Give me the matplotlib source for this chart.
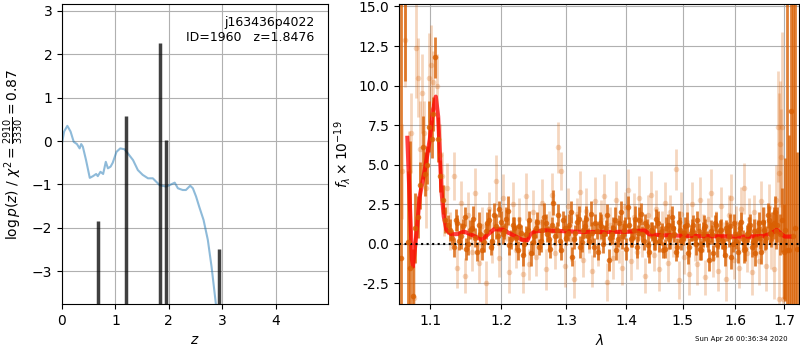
import numpy as np
import matplotlib
matplotlib.use("Agg")
import matplotlib.pyplot as plt
from matplotlib.ticker import FixedLocator, NullLocator, FormatStrFormatter

# --- left panel: p(z) ---
pz_z = [0.00, 0.04, 0.10, 0.16, 0.22, 0.28, 0.33, 0.36, 0.39, 0.45,
        0.52, 0.58, 0.64, 0.67, 0.72, 0.77, 0.82, 0.86, 0.91, 0.95,
        1.02, 1.09, 1.17, 1.23, 1.33, 1.42, 1.51, 1.61, 1.70, 1.83,
        1.95, 2.01, 2.11, 2.17, 2.26, 2.32, 2.40, 2.45, 2.51, 2.57,
        2.65, 2.73, 2.80, 2.88, 2.95]
pz_chi2 = [-0.05, 0.22, 0.35, 0.22, -0.02, -0.07, -0.17, -0.07, -0.13, -0.44,
           -0.85, -0.81, -0.76, -0.81, -0.71, -0.76, -0.48, -0.63, -0.59, -0.50,
           -0.25, -0.17, -0.19, -0.28, -0.44, -0.67, -0.78, -0.86, -0.86, -1.02,
           -1.05, -1.02, -0.96, -1.09, -1.13, -1.13, -1.03, -1.09, -1.28, -1.52,
           -1.82, -2.28, -2.90, -3.75, -4.44]
peak_z = [0.67, 1.19, 1.84, 1.95, 2.93]
peak_logp = [-1.85, 0.57, 2.27, 0.03, -2.5]

# --- right panel: spectrum ---
wave_dark = [1.061, 1.066, 1.0705, 1.0735, 1.077, 1.080, 1.0835, 1.087, 1.090, 1.093,
             1.096, 1.099, 1.102, 1.1045, 1.1068, 1.1113, 1.114, 1.117, 1.120,
             1.125, 1.130, 1.135, 1.140, 1.145, 1.150, 1.155, 1.160, 1.165, 1.170,
             1.175, 1.180, 1.185, 1.190, 1.195, 1.200, 1.205, 1.210, 1.215, 1.220,
             1.225, 1.230, 1.235, 1.240, 1.245, 1.250, 1.255, 1.260, 1.265, 1.270,
             1.275, 1.280, 1.285, 1.290, 1.295, 1.300, 1.305, 1.310, 1.315, 1.320,
             1.325, 1.330, 1.335, 1.340, 1.345, 1.350, 1.355, 1.360, 1.365, 1.370,
             1.375, 1.380, 1.385, 1.390, 1.395, 1.400, 1.405, 1.410, 1.415, 1.420,
             1.425, 1.430, 1.435, 1.440, 1.445, 1.450, 1.455, 1.460, 1.465, 1.470,
             1.475, 1.480, 1.485, 1.490, 1.495, 1.500, 1.505, 1.510, 1.515, 1.520,
             1.525, 1.530, 1.535, 1.540, 1.545, 1.550, 1.555, 1.560, 1.565, 1.570,
             1.575, 1.580, 1.585, 1.590, 1.595, 1.600, 1.605, 1.610, 1.615, 1.620,
             1.625, 1.630, 1.635, 1.640, 1.645, 1.650, 1.655, 1.660, 1.665, 1.670,
             1.675, 1.680, 1.685,
             1.690, 1.694, 1.698, 1.702, 1.706, 1.709, 1.713, 1.717, 1.722, 1.727]
flux_dark = [-0.9, 16.0, 0.1, -1.5, -3.3, 1.0, 1.7, 3.7, 6.1, 4.4,
             5.0, 7.4, 6.6, 8.2, 11.8, 6.6, 4.3, 2.8, 1.5,
             1.2, 0.4, 1.5, 0.2, 1.1, -0.3, 0.9, 1.6, -0.5, 0.6,
             0.1, 1.3, -0.2, 1.8, 0.5, 1.4, 0.8, 2.1, 0.3, 1.0,
             -0.4, 0.7, 0.0, 0.9, -0.6, 0.5, 1.4, 0.2, 1.7, 0.6,
             -0.3, 2.6, 0.9, 0.2, 1.5, 0.4, 1.2, -0.8, 0.7, 1.6,
             0.1, 1.1, 0.5, 1.9, -0.2, 0.8, 1.3, 0.0, 1.0, -1.0,
             0.6, 1.5, 0.3, 2.0, 0.9, -0.3, 1.2, 0.4, 1.6, 0.7,
             1.9, 0.2, 1.1, -0.5, 0.8, 0.1, 1.3, 0.5, -0.4, 1.0,
             0.3, 1.7, 0.6, -0.2, 0.9, 0.4, 1.1, -0.6, 0.7, 1.2,
             0.0, 0.8, -0.4, 1.0, 0.3, -1.0, 0.6, 1.3, -0.1, 0.9,
             0.2, -0.7, 0.8, 1.1, 0.0, 0.6, -0.5, 1.0, 0.3, -0.3,
             0.7, 1.2, 0.1, -0.6, 0.9, 0.4, 1.4, 0.2, 1.8, 0.7,
             1.1, 2.0, 1.2,
             0.6, 1.5, -0.5, 0.9, -0.4, -0.4, 8.4, 0.5, 1.0, -0.3]
err_dark = [25, 5.7, 4.5, 8.0, 3.0, 2.2, 1.3, 1.5, 2.0, 1.4,
            1.2, 1.6, 1.2, 1.1, 1.3, 1.4, 1.0, 0.9, 0.8,
            0.6, 0.5, 0.7, 0.6, 0.5, 0.7, 0.6, 0.8, 0.6, 0.5,
            0.6, 0.7, 0.5, 0.8, 0.6, 0.7, 0.5, 0.9, 0.6, 0.7,
            0.6, 0.5, 0.7, 0.6, 0.8, 0.5, 0.6, 0.7, 0.9, 0.5,
            0.6, 0.8, 0.5, 0.7, 0.6, 0.5, 0.7, 0.6, 0.5, 0.8,
            0.6, 0.7, 0.5, 0.8, 0.6, 0.5, 0.7, 0.6, 0.5, 0.7,
            0.6, 0.8, 0.5, 0.7, 0.6, 0.7, 0.5, 0.6, 0.8, 0.5,
            0.7, 0.6, 0.5, 0.7, 0.6, 0.5, 0.8, 0.6, 0.5, 0.7,
            0.6, 0.7, 0.5, 0.6, 0.8, 0.5, 0.6, 0.7, 0.5, 0.6,
            0.7, 0.5, 0.6, 0.8, 0.5, 0.7, 0.6, 0.5, 0.7, 0.6,
            0.5, 0.7, 0.6, 0.8, 0.5, 0.6, 0.7, 0.5, 0.6, 0.8,
            0.6, 0.7, 0.5, 0.8, 0.6, 0.7, 0.9, 0.6, 0.8, 0.7,
            0.9, 1.0, 1.1,
            1.3, 2.0, 3.0, 4.5, 20, 7.3, 20, 20, 20, 6.1]

# second set of dark points, interleaved
wave_dark_b = [1.1275, 1.1325, 1.1375, 1.1425, 1.1475, 1.1525, 1.1575, 1.1625, 1.1675, 1.1725,
               1.1775, 1.1825, 1.1875, 1.1925, 1.1975, 1.2025, 1.2075, 1.2125, 1.2175, 1.2225,
               1.2275, 1.2325, 1.2375, 1.2425, 1.2475, 1.2525, 1.2575, 1.2625, 1.2675, 1.2725,
               1.2775, 1.2825, 1.2875, 1.2925, 1.2975, 1.3025, 1.3075, 1.3125, 1.3175, 1.3225,
               1.3275, 1.3325, 1.3375, 1.3425, 1.3475, 1.3525, 1.3575, 1.3625, 1.3675, 1.3725,
               1.3775, 1.3825, 1.3875, 1.3925, 1.3975, 1.4025, 1.4075, 1.4125, 1.4175, 1.4225,
               1.4275, 1.4325, 1.4375, 1.4425, 1.4475, 1.4525, 1.4575, 1.4625, 1.4675, 1.4725,
               1.4775, 1.4825, 1.4875, 1.4925, 1.4975, 1.5025, 1.5075, 1.5125, 1.5175, 1.5225,
               1.5275, 1.5325, 1.5375, 1.5425, 1.5475, 1.5525, 1.5575, 1.5625, 1.5675, 1.5725,
               1.5775, 1.5825, 1.5875, 1.5925, 1.5975, 1.6025, 1.6075, 1.6125, 1.6175, 1.6225,
               1.6275, 1.6325, 1.6375, 1.6425, 1.6475, 1.6525, 1.6575, 1.6625, 1.6675, 1.6725,
               1.6775, 1.6825]
flux_dark_b = [0.9, -0.2, 1.3, 0.5, 1.7, 0.0, 1.0, 0.4, 1.2, -0.4,
               0.8, 1.5, 0.2, 1.1, 2.2, 0.6, 1.6, -0.1, 1.2, 0.4,
               1.1, -0.7, 0.6, 1.5, 0.1, 1.0, -0.2, 0.9, 1.3, 0.3,
               1.2, 0.5, 1.8, -0.4, 1.0, 0.7, 2.0, 0.3, 1.4, -0.2,
               0.9, 1.6, 0.2, 0.7, 1.3, -0.5, 1.1, 0.6, 1.8, 0.4,
               1.0, -0.4, 1.3, 0.5, 1.1, 2.3, 0.3, 0.9, -0.2, 1.5,
               0.6, 1.3, -0.1, 0.9, 0.4, 1.6, 0.2, 0.8, -0.3, 1.2,
               0.5, 1.0, -0.5, 1.4, 0.2, 0.7, 1.2, -0.2, 0.9, 0.4,
               1.5, -0.3, 0.6, 1.1, 0.1, 0.8, -0.6, 1.2, 0.3, 0.9,
               -0.2, 1.0, 0.5, -0.8, 1.3, 0.2, 0.7, 1.4, -0.4, 0.6,
               1.0, -0.2, 0.8, 0.3, 1.3, -0.5, 0.9, 0.4, 1.5, 0.6,
               1.3, 0.8]
err_dark_b = [0.7, 0.6, 0.5, 0.8, 0.6, 0.7, 0.5, 0.6, 0.8, 0.6,
              0.5, 0.7, 0.6, 0.8, 0.5, 0.6, 0.7, 0.6, 0.5, 0.8,
              0.6, 0.7, 0.5, 0.6, 0.8, 0.6, 0.5, 0.7, 0.6, 0.8,
              0.5, 0.6, 0.7, 0.6, 0.8, 0.5, 0.7, 0.6, 0.5, 0.7,
              0.6, 0.8, 0.5, 0.7, 0.6, 0.5, 0.8, 0.6, 0.7, 0.5,
              0.7, 0.6, 0.5, 0.8, 0.6, 0.7, 0.5, 0.6, 0.7, 0.8,
              0.5, 0.6, 0.7, 0.5, 0.8, 0.6, 0.7, 0.5, 0.6, 0.7,
              0.8, 0.5, 0.6, 0.7, 0.6, 0.5, 0.8, 0.6, 0.7, 0.5,
              0.6, 0.7, 0.8, 0.5, 0.6, 0.7, 0.5, 0.8, 0.6, 0.7,
              0.6, 0.5, 0.7, 0.8, 0.6, 0.5, 0.7, 0.6, 0.8, 0.6,
              0.7, 0.6, 0.8, 0.5, 0.7, 0.8, 0.6, 0.7, 0.9, 0.8,
              1.0, 1.1]

wave_light = [1.0625, 1.067, 1.072, 1.0745, 1.078, 1.0815, 1.084, 1.0865, 1.089, 1.092,
              1.095, 1.098, 1.101, 1.104, 1.1095, 1.113, 1.116, 1.119,
              1.1225, 1.1275, 1.1325, 1.1375, 1.1425, 1.1475, 1.1525, 1.1575, 1.1625, 1.1675,
              1.1725, 1.1775, 1.1825, 1.1875, 1.1925, 1.1975, 1.2025, 1.2075, 1.2125, 1.2175,
              1.2225, 1.2275, 1.2325, 1.2375, 1.2425, 1.2475, 1.2525, 1.2575, 1.2625, 1.2675,
              1.2725, 1.2775, 1.2825, 1.2875, 1.2925, 1.2975, 1.3025, 1.3075, 1.3125, 1.3175,
              1.3225, 1.3275, 1.3325, 1.3375, 1.3425, 1.3475, 1.3525, 1.3575, 1.3625, 1.3675,
              1.3725, 1.3775, 1.3825, 1.3875, 1.3925, 1.3975, 1.4025, 1.4075, 1.4125, 1.4175,
              1.4225, 1.4275, 1.4325, 1.4375, 1.4425, 1.4475, 1.4525, 1.4575, 1.4625, 1.4675,
              1.4725, 1.4775, 1.4825, 1.4875, 1.4925, 1.4975, 1.5025, 1.5075, 1.5125, 1.5175,
              1.5225, 1.5275, 1.5325, 1.5375, 1.5425, 1.5475, 1.5525, 1.5575, 1.5625, 1.5675,
              1.5725, 1.5775, 1.5825, 1.5875, 1.5925, 1.5975, 1.6025, 1.6075, 1.6125, 1.6175,
              1.6225, 1.6275, 1.6325, 1.6375, 1.6425, 1.6475, 1.6525, 1.6575, 1.6625, 1.6675,
              1.6725, 1.6775, 1.6825,
              1.6865, 1.688, 1.6895, 1.691, 1.6925, 1.6945, 1.697]
flux_light = [4.6, 12.9, 4.6, 7.0, -3.4, 12.4, 10.5, 6.0, 9.5, 7.0,
              3.5, 10.5, 11.3, 10.2, 10.0, 5.6, 4.3, 2.1,
              3.5, 0.8, 4.3, -1.5, 2.6, -2.0, 1.8, -0.5, 3.2, -1.2,
              1.1, -2.5, 2.2, 0.1, 4.0, -0.9, 2.9, 1.2, -1.8, 2.5,
              -0.4, 1.6, -1.9, 3.0, -1.3, 2.0, -0.8, 1.4, 2.6, -1.6,
              0.9, 3.1, -0.6, 6.1, 4.6, -1.4, 2.4, 0.3, -2.2, 1.9,
              3.3, -1.0, 2.1, 0.6, -1.7, 2.7, -0.3, 1.5, 3.0, -2.4,
              1.2, -0.9, 2.8, 0.2, -1.5, 2.3, 3.4, -1.1, 1.7, -0.5,
              2.9, 0.4, -2.0, 1.8, 3.1, -0.7, 2.2, -1.6, 1.0, 2.6,
              -1.2, 2.0, 0.5, 4.7, -2.3, 1.9, -0.8, 1.4, -1.9, 2.5,
              0.0, -1.3, 2.8, 0.7, -2.1, 1.6, 3.2, -0.9, 1.1, -1.7,
              2.4, 0.3, -2.2, 1.8, 2.9, -1.0, 1.3, -1.5, 2.2, 3.5,
              -0.6, 1.6, -1.8, 2.0, 0.4, -1.1, 2.7, 0.9, -1.4, 2.3,
              0.1, -1.6, 2.8,
              7.4, 4.5, -3.5, 6.3, 5.5, 7.4, -3.5]
err_light = [3.0, 3.0, 2.5, 2.5, 2.0, 3.2, 2.5, 3.0, 2.5, 2.0,
             2.5, 2.8, 2.5, 2.0, 2.0, 2.0, 1.5, 1.6,
             1.6, 1.2, 1.5, 1.3, 1.4, 1.1, 1.5, 1.2, 1.6, 1.3,
             1.2, 1.4, 1.1, 1.3, 1.6, 1.2, 1.5, 1.0, 1.3, 1.4,
             1.1, 1.3, 1.2, 1.5, 1.0, 1.4, 1.2, 1.1, 1.5, 1.3,
             1.2, 1.4, 1.0, 1.6, 1.2, 1.3, 1.1, 1.4, 1.2, 1.0,
             1.3, 1.1, 1.4, 1.2, 1.0, 1.5, 1.1, 1.3, 1.4, 1.2,
             1.1, 1.3, 1.2, 1.4, 1.1, 1.0, 1.3, 1.2, 1.5, 1.1,
             1.4, 1.2, 1.1, 1.3, 1.5, 1.0, 1.2, 1.4, 1.1, 1.3,
             1.2, 1.1, 1.3, 1.3, 1.2, 1.4, 1.1, 1.2, 1.3, 1.4,
             1.1, 1.3, 1.4, 1.2, 1.1, 1.3, 1.5, 1.2, 1.0, 1.3,
             1.2, 1.1, 1.4, 1.3, 1.5, 1.2, 1.1, 1.3, 1.4, 1.6,
             1.2, 1.3, 1.4, 1.1, 1.2, 1.5, 1.3, 1.4, 1.6, 1.5,
             1.7, 1.9, 2.2,
             3.5, 5.0, 3.0, 4.0, 3.0, 6.0, 4.0]

model_wave = [1.0697, 1.0727, 1.0758, 1.0771, 1.0818, 1.086, 1.0929, 1.0996, 1.104, 1.1077,
              1.1109, 1.113, 1.1154, 1.1186, 1.1222, 1.129, 1.138, 1.147, 1.156, 1.168,
              1.172, 1.181, 1.190, 1.203, 1.217, 1.232, 1.2395, 1.244, 1.252, 1.267,
              1.327, 1.40, 1.42, 1.432, 1.44, 1.46, 1.514, 1.56, 1.62, 1.657,
              1.672, 1.684, 1.694, 1.701, 1.712]
model_flux = [6.7, 2.8, -1.0, -1.43, 0.68, 3.0, 4.7, 6.6, 8.5, 9.3,
              8.05, 5.95, 3.4, 1.73, 0.89, 0.6, 0.62, 0.78, 0.6, 0.36,
              0.25, 0.6, 0.93, 0.89, 0.57, 0.25, 0.22, 0.6, 0.79, 0.85,
              0.75, 0.76, 0.82, 0.85, 0.6, 0.55, 0.5, 0.48, 0.46, 0.5,
              0.65, 0.89, 0.6, 0.46, 0.46]

lam_ticks = [1.1, 1.2, 1.3, 1.4, 1.5, 1.6, 1.7]

fig = plt.figure(figsize=(8, 3.5), dpi=100)
ax1 = fig.add_axes([0.0775, 0.1314, 0.3325, 0.857])
ax2 = fig.add_axes([0.499, 0.1314, 0.5, 0.857])

#left: chi2 / p(z)
ax1.plot(pz_z, pz_chi2, color='#1f77b4', alpha=0.5, lw=1.5)
ax1.vlines(peak_z, -5, peak_logp, color='k', alpha=0.75, lw=2.5)
ax1.set_xlim(0, 4.98)
ax1.set_ylim(-3.76, 3.16)
ax1.set_xticks([0, 1, 2, 3, 4])
ax1.set_yticks([-3, -2, -1, 0, 1, 2, 3])
ax1.grid(True)
ax1.set_axisbelow(True)
ax1.set_xlabel(r'$z$')
ax1.set_ylabel(r'$\log p(z)$ / $\chi^2=\frac{2910}{3330}=0.87$')
ax1.text(0.95, 0.96, 'j163436p4022\nID=1960   z=1.8476', ha='right', va='top',
         transform=ax1.transAxes, fontsize=9)

#right: spectrum
c = '#d95f02'
ax2.errorbar(wave_light, flux_light, yerr=err_light, fmt='o', color=c, ecolor=c,
             alpha=0.25, ms=4, mec='none', elinewidth=2, capsize=0)
for w, f, e in [(wave_dark, flux_dark, err_dark), (wave_dark_b, flux_dark_b, err_dark_b)]:
    ax2.errorbar(w, f, yerr=e, fmt='o', color=c, ecolor=c,
                 alpha=0.8, ms=4, mec='none', elinewidth=2, capsize=0)
ax2.plot(model_wave, model_flux, color='red', alpha=0.75, lw=3)
ax2.axhline(0, color='k', ls=':', lw=1.5)
ax2.set_xscale('log')
ax2.set_xlim(1.059, 1.731)
ax2.set_ylim(-3.8, 15.15)
ax2.xaxis.set_major_locator(FixedLocator(lam_ticks))
ax2.xaxis.set_major_formatter(FormatStrFormatter('%.1f'))
ax2.xaxis.set_minor_locator(NullLocator())
ax2.set_yticks([-2.5, 0, 2.5, 5, 7.5, 10, 12.5, 15])
ax2.yaxis.set_major_formatter(FormatStrFormatter('%.1f'))
ax2.grid(True)
ax2.set_axisbelow(True)
ax2.set_xlabel(r'$\lambda$')
ax2.set_ylabel(r'$f_\lambda \times 10^{-19}$')

fig.text(0.985, 0.022, 'Sun Apr 26 00:36:34 2020', ha='right', va='bottom', fontsize=5)

fig.savefig('out.png', dpi=100)
